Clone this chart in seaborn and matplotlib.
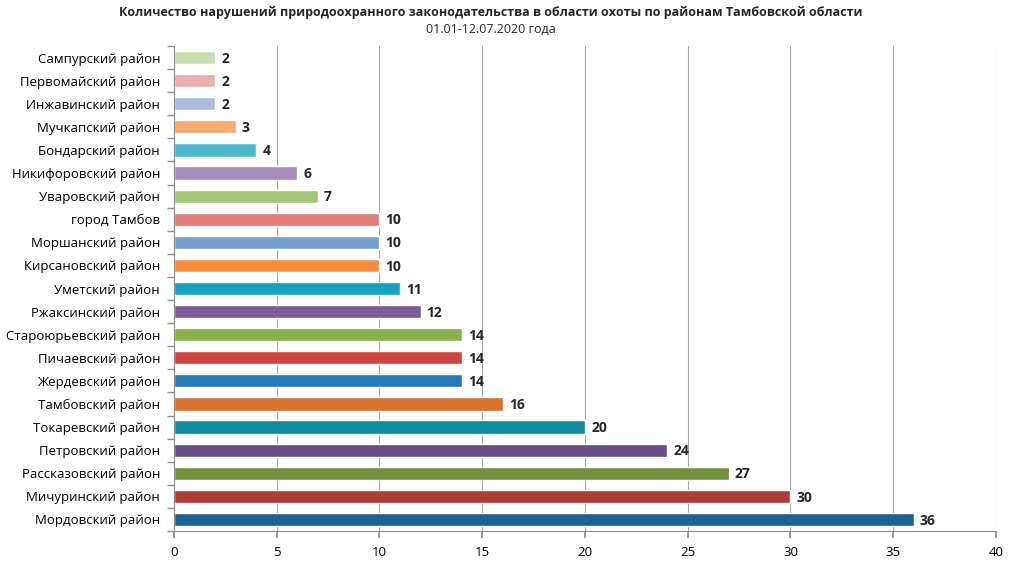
import matplotlib
matplotlib.use("Agg")
import matplotlib.pyplot as plt
import seaborn as sns
import pandas as pd
import numpy as np

districts = [
    "Сампурский район", "Первомайский район", "Инжавинский район", "Мучкапский район",
    "Бондарский район", "Никифоровский район", "Уваровский район", "город Тамбов",
    "Моршанский район", "Кирсановский район", "Уметский район", "Ржаксинский район",
    "Староюрьевский район", "Пичаевский район", "Жердевский район", "Тамбовский район",
    "Токаревский район", "Петровский район", "Рассказовский район", "Мичуринский район",
    "Мордовский район",
]
values = [2, 2, 2, 3, 4, 6, 7, 10, 10, 10, 11, 12, 14, 14, 14, 16, 20, 24, 27, 30, 36]
colors = [
    "#C7DDB0", "#E8B0AE", "#A9BEDF", "#F9A86F", "#4FB8CF", "#A48BBE", "#A4C67A", "#E07C7A",
    "#739FD0", "#F88E3A", "#12A3BE", "#7F5C9C", "#88B04B", "#CC4643", "#2878B5", "#D6722E",
    "#13899F", "#684C83", "#6F923A", "#AE3D3A", "#1B6393",
]
title = "Количество нарушений природоохранного законодательства в области охоты по районам Тамбовской области"
subtitle = "01.01-12.07.2020 года"

sns.set_theme(style="white")
plt.rcParams["font.family"] = ["Open Sans", "DejaVu Sans"]

df = pd.DataFrame({"district": districts, "value": values})
fig = plt.figure(figsize=(10.23, 5.75), dpi=100)
ax = fig.add_axes([0.170, 0.0765, 0.8036, 0.8435])

sns.barplot(data=df, x="value", y="district", hue="district", order=districts,
            palette=dict(zip(districts, colors)), orient="h", width=0.57,
            legend=False, ax=ax, saturation=1)

ax.set_xlim(0, 40)
ax.set_ylim(len(districts) - 0.5, -0.5)
ax.set_xticks(np.arange(0, 41, 5))
ax.xaxis.grid(True, color="#A6A6A6", linewidth=0.8)
ax.set_axisbelow(True)
ax.set_xlabel("")
ax.set_ylabel("")
for s in ["top", "right"]:
    ax.spines[s].set_visible(False)
for s in ["left", "bottom"]:
    ax.spines[s].set_color("#8C8C8C")
    ax.spines[s].set_linewidth(0.8)
ax.tick_params(axis="y", which="major", length=0, labelsize=9.5, pad=10, colors="black")
ax.set_yticks(np.arange(len(districts) + 1) - 0.5, minor=True)
ax.tick_params(axis="y", which="minor", length=5, color="#8C8C8C", direction="out", left=True)
ax.tick_params(axis="x", length=5, color="#8C8C8C", direction="out", bottom=True,
               labelsize=9.5, pad=6, colors="black")

for i, v in enumerate(values):
    ax.text(v + 0.3, i + 0.05, str(v), va="center", ha="left", fontsize=10, fontweight="bold")

fig.text(0.48, 1 - 12 / 575, title, ha="center", va="center", fontsize=9, fontweight="bold")
fig.text(0.48, 1 - 29 / 575, subtitle, ha="center", va="center", fontsize=9)

fig.savefig("out.png", dpi=100)
